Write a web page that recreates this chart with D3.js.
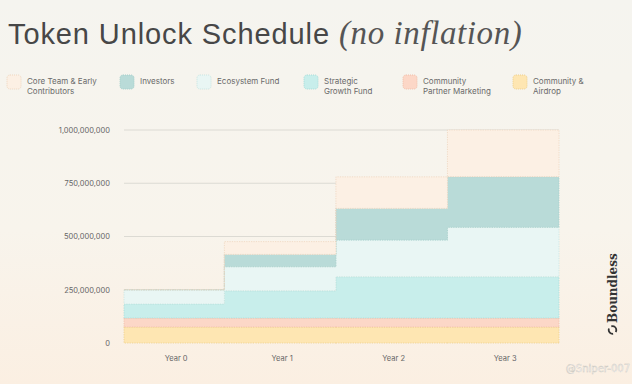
<!DOCTYPE html>
<html>
<head>
<meta charset="utf-8">
<script src="https://cdn.jsdelivr.net/npm/d3@7"></script>
<style>
  html, body { margin: 0; padding: 0; }
  body { width: 632px; height: 384px; overflow: hidden; }
  svg { display: block; }
</style>
</head>
<body>
<div id="chart"></div>
<script>
"use strict";

// periods (step starts, in years relative to year 0 unlock) and labels
var periodStarts = [-0.9, 0, 1, 2];
var periodEnd = 3;
var yearLabels = ["Year 0", "Year 1", "Year 2", "Year 3"];

// cumulative unlocked tokens per period (millions), bottom of stack first
var airdrop   = [75, 75, 75, 75];
var partner   = [42, 42, 42, 42];
var strategic = [66, 128, 194, 194];
var ecosystem = [67, 113, 172, 232];
var investors = [0, 58, 149, 238];
var coreTeam  = [0, 60, 148, 219];

var yTicks = [0, 250e6, 500e6, 750e6, 1000e6];

// legend order (left to right) and stack order (bottom to top)
var legendKeys = ["core", "investors", "ecosystem", "strategic", "partner", "airdrop"];
var legendLabels = {
    core: ["Core Team & Early", "Contributors"],
    investors: ["Investors"],
    ecosystem: ["Ecosystem Fund"],
    strategic: ["Strategic", "Growth Fund"],
    partner: ["Community", "Partner Marketing"],
    airdrop: ["Community &", "Airdrop"]
};
var stackKeys = ["airdrop", "partner", "strategic", "ecosystem", "investors", "core"];

var fills = {
    core: "#fcf0e4", investors: "#b9dbd8", ecosystem: "#e9f6f4",
    strategic: "#c8eeeb", partner: "#fcd7c7", airdrop: "#fee6b2"
};
var strokes = {
    core: "#efd6bf", investors: "#a6cfcb", ecosystem: "#c8e5e1",
    strategic: "#a8ddd9", partner: "#f0bfaa", airdrop: "#eecf8c"
};

var width = 632, height = 384;

var svg = d3.select("#chart").append("svg")
    .attr("width", width)
    .attr("height", height);

// background
var defs = svg.append("defs");
var grad = defs.append("linearGradient")
    .attr("id", "bg").attr("x1", 0).attr("y1", 0).attr("x2", 0).attr("y2", 1);
grad.append("stop").attr("offset", "0%").attr("stop-color", "#f5f4ef");
grad.append("stop").attr("offset", "60%").attr("stop-color", "#f8f4ec");
grad.append("stop").attr("offset", "100%").attr("stop-color", "#fbefe2");
svg.append("rect").attr("width", width).attr("height", height).attr("fill", "url(#bg)");

// title
var title = svg.append("text")
    .attr("x", 8).attr("y", 44)
    .attr("fill", "#474747");
title.append("tspan")
    .attr("font-family", "'Liberation Sans', Arial, sans-serif")
    .attr("font-size", 29)
    .attr("letter-spacing", 0.9)
    .text("Token Unlock Schedule ");
title.append("tspan")
    .attr("font-family", "'Liberation Serif', 'DejaVu Serif', serif")
    .attr("font-style", "italic")
    .attr("font-size", 33)
    .attr("letter-spacing", 0.6)
    .attr("fill", "#555")
    .text("(no inflation)");

// legend
var legendX = [7, 120, 197, 304, 403, 513];
var legend = svg.append("g").attr("class", "legend");
legendKeys.forEach(function(k, i) {
    var g = legend.append("g").attr("transform", "translate(" + legendX[i] + ",75)");
    g.append("rect")
        .attr("width", 14).attr("height", 14).attr("rx", 3)
        .attr("fill", fills[k])
        .attr("stroke", strokes[k])
        .attr("stroke-dasharray", "1,1");
    var t = g.append("text")
        .attr("x", 20).attr("y", 9)
        .attr("font-family", "Inter, 'Liberation Sans', sans-serif")
        .attr("font-size", 8)
        .attr("fill", "#6a6a6a");
    legendLabels[k].forEach(function(line, j) {
        t.append("tspan").attr("x", 20).attr("dy", j === 0 ? 0 : 10).text(line);
    });
});

// scales
var x = d3.scaleLinear().domain([periodStarts[0], periodEnd]).range([124, 559]);
var y = d3.scaleLinear().domain([0, 1e9]).range([343, 130]);

// gridlines
svg.append("g").attr("class", "grid")
    .selectAll("line")
    .data(yTicks.filter(function(d) { return d > 0; }))
    .enter().append("line")
    .attr("x1", x.range()[0]).attr("x2", x.range()[1])
    .attr("y1", function(d) { return y(d); })
    .attr("y2", function(d) { return y(d); })
    .attr("stroke", "#dcdad3")
    .attr("stroke-width", 1);

// y axis labels
var yAxis = d3.axisLeft(y)
    .tickValues(yTicks)
    .tickSize(0)
    .tickPadding(0)
    .tickFormat(d3.format(","));
svg.append("g")
    .attr("transform", "translate(110,0)")
    .call(yAxis)
    .call(function(g) {
        g.select(".domain").remove();
        g.selectAll("text")
            .attr("font-family", "Inter, 'Liberation Sans', sans-serif")
            .attr("font-size", 7.5)
            .attr("fill", "#666");
    });

// stacked step areas
var rows = periodStarts.map(function(p, i) {
    return {
        t: p,
        airdrop: airdrop[i] * 1e6, partner: partner[i] * 1e6,
        strategic: strategic[i] * 1e6, ecosystem: ecosystem[i] * 1e6,
        investors: investors[i] * 1e6, core: coreTeam[i] * 1e6
    };
});
var last = Object.assign({}, rows[rows.length - 1], { t: periodEnd });
rows.push(last);

var series = d3.stack().keys(stackKeys)(rows);

var area = d3.area()
    .curve(d3.curveStepAfter)
    .x(function(d) { return x(d.data.t); })
    .y0(function(d) { return y(d[0]); })
    .y1(function(d) { return y(d[1]); });

svg.append("g").attr("class", "bands")
    .selectAll("path")
    .data(series)
    .enter().append("path")
    .attr("d", area)
    .attr("fill", function(d) { return fills[d.key]; })
    .attr("stroke", function(d) { return strokes[d.key]; })
    .attr("stroke-width", 0.8)
    .attr("stroke-dasharray", "1.2,1.2");

// x labels
svg.append("g").attr("class", "xlabels")
    .selectAll("text")
    .data(yearLabels)
    .enter().append("text")
    .attr("x", function(d, i) {
        var end = i + 1 < periodStarts.length ? periodStarts[i + 1] : periodEnd;
        return x((periodStarts[i] + end) / 2) + 2;
    })
    .attr("y", 361)
    .attr("text-anchor", "middle")
    .attr("font-family", "Inter, 'Liberation Sans', sans-serif")
    .attr("font-size", 7.5)
    .attr("fill", "#666")
    .text(function(d) { return d; });

// brand mark
var brand = svg.append("g").attr("transform", "translate(617,323) rotate(-90)");
brand.append("text")
    .attr("x", 0).attr("y", 0)
    .attr("font-family", "'DejaVu Serif', 'Liberation Serif', serif")
    .attr("font-weight", "bold")
    .attr("font-size", 12)
    .attr("fill", "#333")
    .text("Boundless");
brand.append("circle")
    .attr("cx", -7).attr("cy", -4.5).attr("r", 3.8)
    .attr("fill", "none").attr("stroke", "#333").attr("stroke-width", 1.8)
    .attr("stroke-dasharray", "8,3");

// watermark
svg.append("text")
    .attr("x", 630).attr("y", 372)
    .attr("text-anchor", "end")
    .attr("font-family", "'DejaVu Sans', sans-serif")
    .attr("font-size", 10)
    .attr("fill", "#ffffff")
    .attr("stroke", "#c9c4bb")
    .attr("stroke-width", 0.4)
    .text("@Sniper-007");
</script>
</body>
</html>
